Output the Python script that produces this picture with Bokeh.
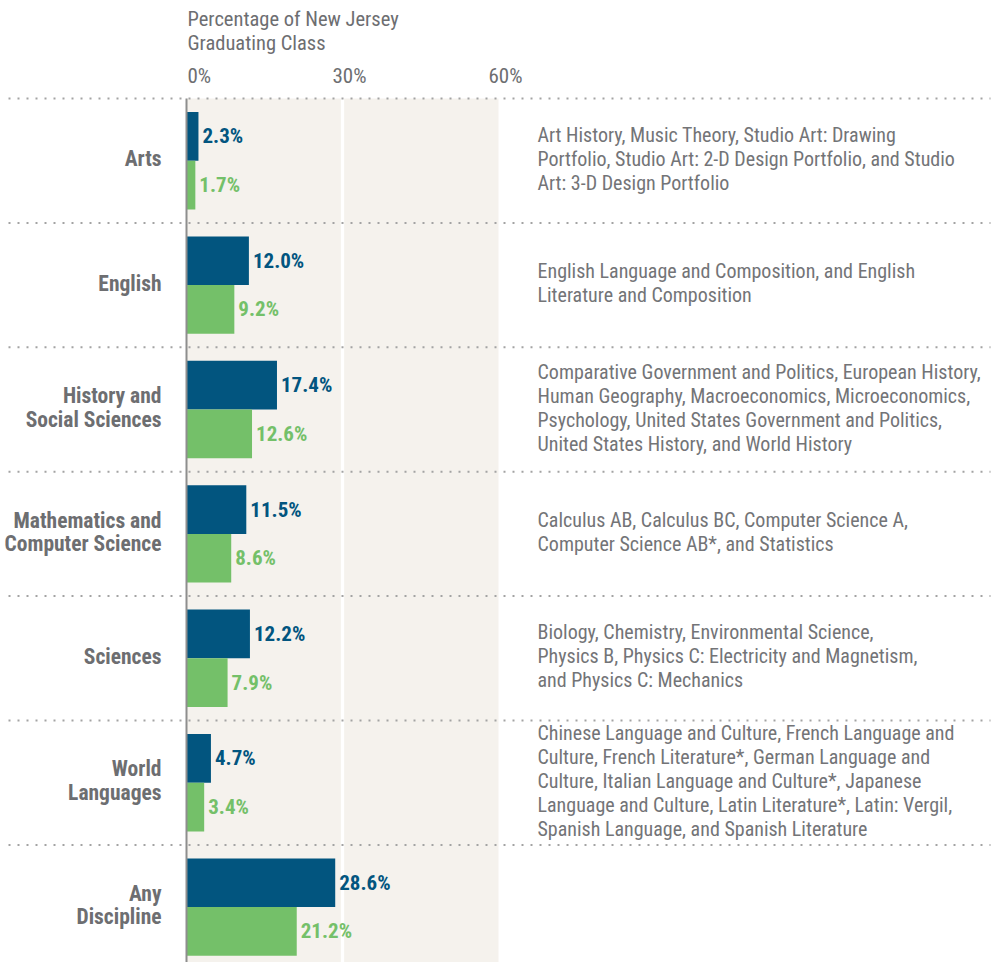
from bokeh.plotting import figure
from bokeh.models import Range1d, ColumnDataSource
from bokeh.core.properties import value
from bokeh.embed import file_html
from bokeh.resources import INLINE

# ---------------- data ----------------
categories = ["Arts", "English", "History and\nSocial Sciences", "Mathematics and\nComputer Science",
              "Sciences", "World\nLanguages", "Any\nDiscipline"]
series_a = [2.3, 12.0, 17.4, 11.5, 12.2, 4.7, 28.6]   # dark blue bars
series_b = [1.7, 9.2, 12.6, 8.6, 7.9, 3.4, 21.2]      # green bars
descriptions = [
    "Art History, Music Theory, Studio Art: Drawing\nPortfolio, Studio Art: 2-D Design Portfolio, and Studio\nArt: 3-D Design Portfolio",
    "English Language and Composition, and English\nLiterature and Composition",
    "Comparative Government and Politics, European History,\nHuman Geography, Macroeconomics, Microeconomics,\nPsychology, United States Government and Politics,\nUnited States History, and World History",
    "Calculus AB, Calculus BC, Computer Science A,\nComputer Science AB*, and Statistics",
    "Biology, Chemistry, Environmental Science,\nPhysics B, Physics C: Electricity and Magnetism,\nand Physics C: Mechanics",
    "Chinese Language and Culture, French Language and\nCulture, French Literature*, German Language and\nCulture, Italian Language and Culture*, Japanese\nLanguage and Culture, Latin Literature*, Latin: Vergil,\nSpanish Language, and Spanish Literature",
    "",
]
tick_values = [0, 30, 60]
tick_labels = ["0%", "30%", "60%"]
axis_title_lines = ["Percentage of New Jersey", "Graduating Class"]

# ---------------- styling / layout ----------------
BLUE = "#02557f"
GREEN = "#74c069"
SHADE = "#f5f2ed"
GRAY = "#6d6e71"
BODY_GRAY = "#737477"
DOT = "#a3a3a3"
FONT = "'Roboto Condensed', 'Liberation Sans Narrow', 'DejaVu Sans Condensed', 'Arial Narrow', Roboto, sans-serif"

W, H = 996, 962
PX_PER_PCT = 5.2
ZERO_PX = 186          # canvas x of 0%
GROUP_PX = 124.4
TOP_SEP_PX = 98        # canvas y of first separator

x_start = -ZERO_PX / PX_PER_PCT
x_end = x_start + W / PX_PER_PCT
y_top = -0.5 - TOP_SEP_PX / GROUP_PX
y_bottom = y_top + H / GROUP_PX

def cx(px):
    return x_start + px / PX_PER_PCT

def cy(px):
    return y_top + px / GROUP_PX

p = figure(width=W, height=H, output_backend="svg", toolbar_location=None,
           x_range=Range1d(x_start, x_end), y_range=Range1d(y_bottom, y_top),
           min_border=0, outline_line_color=None, background_fill_color="white",
           border_fill_color="white")
p.xaxis.visible = False
p.yaxis.visible = False
p.xgrid.visible = False
p.ygrid.visible = False

n = len(categories)
idx = list(range(n))
bar_h = 48.7 / GROUP_PX
off = bar_h / 2

# shaded panel and white gridline
p.quad(left=[tick_values[0]], right=[tick_values[-1]], top=[-0.5], bottom=[y_bottom],
       fill_color=SHADE, line_color=None)
p.segment(x0=[tick_values[1]], x1=[tick_values[1]], y0=[-0.5], y1=[y_bottom],
          line_color="white", line_width=3.3)

# dotted separators
seps = [i - 0.5 for i in idx]
p.segment(x0=[cx(8)] * n, x1=[cx(990)] * n, y0=seps, y1=seps,
          line_color=DOT, line_width=2, line_dash="2 7")

# bars
src = ColumnDataSource(dict(y=idx, a=series_a, b=series_b,
                            ya=[i - off for i in idx], yb=[i + off for i in idx],
                            la=[f"{v:.1f}%" for v in series_a],
                            lb=[f"{v:.1f}%" for v in series_b],
                            cat=categories, desc=descriptions))
p.hbar(y="ya", right="a", left=0, height=bar_h, source=src, fill_color=BLUE, line_color=None)
p.hbar(y="yb", right="b", left=0, height=bar_h, source=src, fill_color=GREEN, line_color=None)

# axis line
p.segment(x0=[0], x1=[0], y0=[-0.5], y1=[y_bottom], line_color="#8e8e8e", line_width=2)

# value labels
p.text(x="a", y="ya", text="la", source=src, x_offset=4, text_baseline="middle",
       text_align="left", text_color=BLUE, text_font=value(FONT),
       text_font_style="bold", text_font_size="21px")
p.text(x="b", y="yb", text="lb", source=src, x_offset=4, text_baseline="middle",
       text_align="left", text_color=GREEN, text_font=value(FONT),
       text_font_style="bold", text_font_size="21px")

# category labels
p.text(x=0, y="y", text="cat", source=src, x_offset=-25, y_offset=-2, text_baseline="middle",
       text_align="right", text_color=GRAY, text_font=value(FONT),
       text_font_style="bold", text_font_size="21.5px", text_line_height=0.95)

# descriptions
p.text(x=tick_values[-1], y="y", text="desc", source=src, x_offset=39, y_offset=-2,
       text_baseline="middle", text_align="left", text_color=BODY_GRAY, text_font=value(FONT),
       text_font_size="20px", text_line_height=1.0)

# tick labels (top)
p.text(x=[tick_values[0]], y=[cy(75)], text=[tick_labels[0]], text_align="left", x_offset=1,
       text_baseline="alphabetic", text_color=GRAY, text_font=value(FONT), text_font_size="21px")
p.text(x=tick_values[1:], y=[cy(75)] * (len(tick_values) - 1), text=tick_labels[1:],
       text_align="center", x_offset=7, text_baseline="alphabetic", text_color=GRAY,
       text_font=value(FONT), text_font_size="21px")

# axis title
p.text(x=[0] * len(axis_title_lines), y=[cy(18), cy(42)], text=axis_title_lines, x_offset=1,
       text_align="left", text_baseline="alphabetic", text_color=GRAY, text_font=value(FONT),
       text_font_size="20.5px")

open("out.html", "w").write(file_html(p, INLINE))
